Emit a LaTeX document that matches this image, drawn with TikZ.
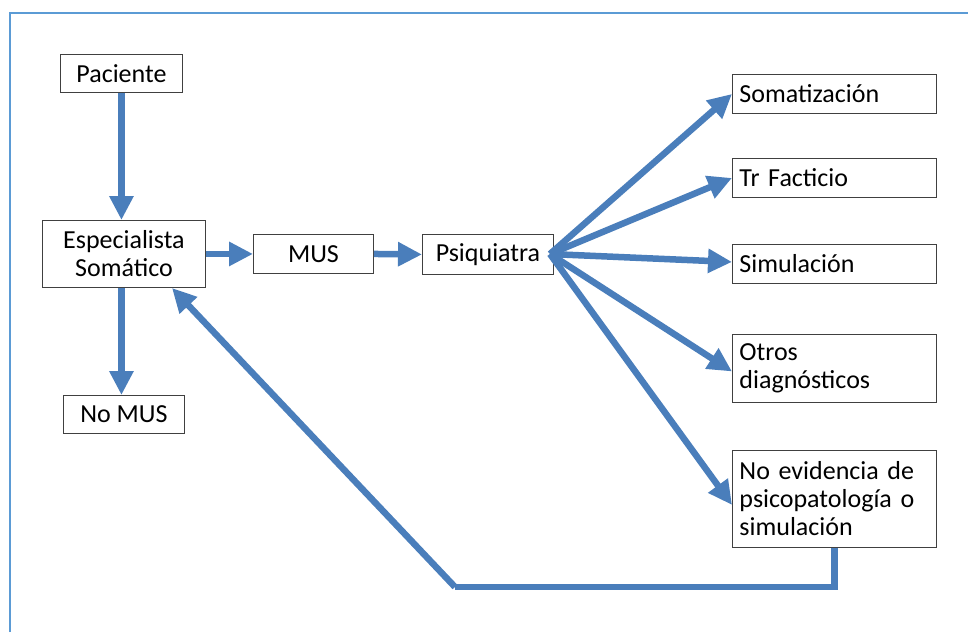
\documentclass[tikz,border=0pt]{standalone}
\usepackage{fontspec}
\setmainfont{Carlito}
\usetikzlibrary{arrows.meta,calc}
\definecolor{arrblue}{RGB}{74,126,187}
\definecolor{frameblue}{RGB}{91,155,213}
\begin{document}
\begin{tikzpicture}[x=1pt,y=-1pt,
  box/.style={draw=black!75,line width=0.9pt,fill=white,font=\fontsize{26}{28}\selectfont,inner sep=0pt,align=center},
  rbox/.style={box,anchor=north west,minimum width=204pt,text width=190pt,align=left,inner xsep=7pt},
  arr/.style={draw=arrblue,line width=6.5pt,-{Triangle[length=24pt,width=23pt]}},
  fb/.style={draw=arrblue,line width=6.5pt,line join=miter}]
\useasboundingbox (0,0) rectangle (968,632);
\draw[frameblue,line width=1.6pt] (10,632) -- (10,13) -- (968,13);
\node[box,anchor=north west,minimum width=122pt,minimum height=38pt] (pac) at (60,54) {Paciente};
\node[box,anchor=north west,minimum width=163pt,minimum height=67pt] (esp) at (42,220) {Especialista\\Somático};
\node[box,anchor=north west,minimum width=120pt,minimum height=39pt] (mus) at (253,234) {MUS};
\node[box,anchor=north west,minimum width=131pt,minimum height=40pt] (psi) at (422,234) {Psiquiatra};
\node[box,anchor=north west,minimum width=121pt,minimum height=38pt] (nomus) at (63,395) {No MUS};
\node[rbox,minimum height=39pt] (som) at (732,74) {Somatización};
\node[rbox,minimum height=39pt] (tr) at (732,158) {Tr Facticio};
\node[rbox,minimum height=39pt] (sim) at (732,244) {Simulación};
\node[rbox,minimum height=68pt] (otr) at (732,334) {Otros\\diagnósticos};
\node[rbox,minimum height=97pt] (nev) at (732,450) {No evidencia de\\psicopatología o\\simulación};
\coordinate (fork) at (550,254);
\coordinate (fbc) at (455,587);
\coordinate (fbend) at (172,288);
\draw[arr] (pac.south) -- (pac.south |- esp.north);
\draw[arr] (esp.east) -- (mus.west);
\draw[arr] (mus.east) -- (psi.west);
\draw[arr] (esp.south -| pac.south) -- (pac.south |- nomus.north);
\draw[arr] (fork) -- (som.west);
\draw[arr] (fork) -- (tr.west);
\draw[arr] (fork) -- ([yshift=2pt]sim.west);
\draw[arr] (fork) -- ([yshift=-3pt]otr.west);
\draw[arr] (fork) -- ([yshift=-6pt]nev.west);
\draw[fb] (nev.south) |- (fbc);
\draw[arr] (fbc) -- (fbend);
\end{tikzpicture}
\end{document}
